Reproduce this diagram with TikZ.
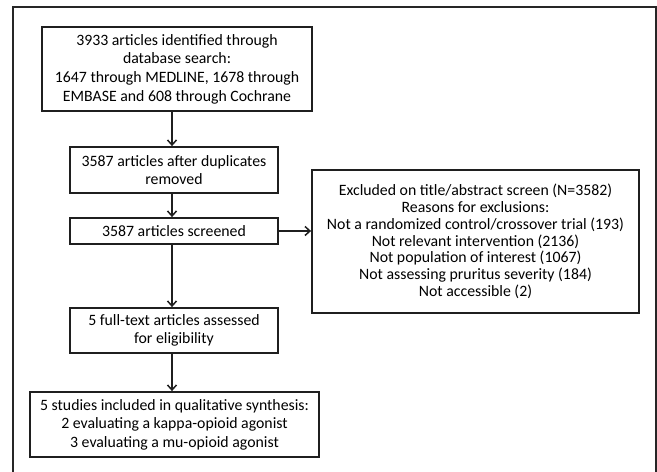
\documentclass[tikz,border=0pt]{standalone}
\usepackage{fontspec}
\setmainfont{Carlito}
\usetikzlibrary{arrows.meta,calc}
\begin{document}
\begin{tikzpicture}[x=1bp,y=-1bp,
  box/.style={draw=black!88, line width=1.8bp, inner sep=0pt, align=center,
    font=\fontsize{15.8bp}{18.7bp}\selectfont},
  arr/.style={draw=black!88, line width=1.5bp,
    -{Straight Barb[length=5bp,width=9bp,line width=1.5bp]}}
]
\useasboundingbox (0,0) rectangle (657,472);
\draw[line width=1.5bp, draw=black!85] (13,472) -- (13,7) -- (656,7) -- (656,472);

\node[box, minimum width=270bp, minimum height=84bp] (b1) at (177,69)
  {3933 articles identified through\\database search:\\1647 through MEDLINE, 1678 through\\EMBASE and 608 through Cochrane};
\node[box, minimum width=208bp, minimum height=46bp] (b2) at (174,170)
  {3587 articles after duplicates\\removed};
\node[box, minimum width=208bp, minimum height=26bp] (b3) at (174,231)
  {3587 articles screened};
\node[box, minimum width=327bp, minimum height=143bp,
  font=\fontsize{15.8bp}{16.8bp}\selectfont] (b4) at (475.5,241.5)
  {Excluded on title/abstract screen (N=3582)\\Reasons for exclusions:\\Not a randomized control/crossover trial (193)\\Not relevant intervention (2136)\\Not population of interest (1067)\\Not assessing pruritus severity (184)\\Not accessible (2)};
\node[box, minimum width=208bp, minimum height=45bp] (b5) at (174,330.5)
  {5 full-text articles assessed\\for eligibility};
\node[box, minimum width=289bp, minimum height=65bp,
  font=\fontsize{15.8bp}{18.5bp}\selectfont] (b6) at (174.5,424.5)
  {5 studies included in qualitative synthesis:\\2 evaluating a kappa-opioid agonist\\3 evaluating a mu-opioid agonist};

\coordinate (ax) at (172,0);
\draw[arr] (b1.south -| ax) -- (b2.north -| ax);
\draw[arr] (b2.south -| ax) -- (b3.north -| ax);
\draw[arr] (b3.south -| ax) -- (b5.north -| ax);
\draw[arr] (b5.south -| ax) -- (b6.north -| ax);
\draw[arr] (b3.east) -- (b4.west |- b3.east);
\end{tikzpicture}
\end{document}
